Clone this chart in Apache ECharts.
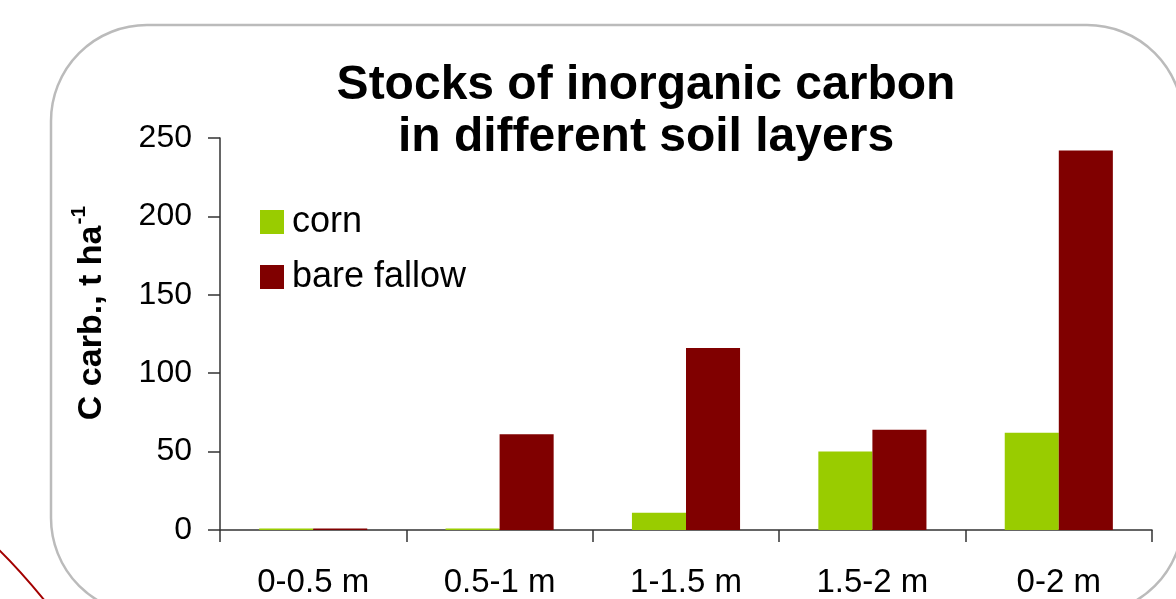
<!DOCTYPE html>
<html>
<head>
<meta charset="utf-8">
<script src="https://cdn.jsdelivr.net/npm/echarts@6/dist/echarts.min.js"></script>
<style>
  html, body { margin: 0; padding: 0; background: #ffffff; }
  #chart { width: 1176px; height: 599px; }
</style>
</head>
<body>
<div id="chart"></div>
<script>
// Soil layers on the category axis
const categories = ['0-0.5 m', '0.5-1 m', '1-1.5 m', '1.5-2 m', '0-2 m'];
// Inorganic carbon stocks, t ha-1
const corn = [1, 1, 11, 50, 62];
const bareFallow = [1, 61, 116, 64, 242];
// Value axis ticks
const yMin = 0;
const yMax = 250;
const yStep = 50;

const FONT = "'Liberation Sans', Arial, Helvetica, sans-serif";
const chart = echarts.init(document.getElementById('chart'), null, { renderer: 'canvas' });

const option = {
  backgroundColor: '#ffffff',
  animation: false,
  title: {
    text: 'Stocks of inorganic carbon\nin different soil layers',
    left: 641,
    top: 55,
    textAlign: 'center',
    textStyle: {
      fontFamily: FONT,
      fontSize: 48,
      fontWeight: 'bold',
      color: '#000000',
      lineHeight: 52
    }
  },
  legend: [
    {
      data: ['corn'],
      left: 255,
      top: 199,
      icon: 'rect',
      itemWidth: 24,
      itemHeight: 24,
      selectedMode: false,
      textStyle: { fontFamily: FONT, fontSize: 36, color: '#000000', lineHeight: 36, padding: [0, 0, 0, 3] }
    },
    {
      data: ['bare fallow'],
      left: 255,
      top: 254,
      icon: 'rect',
      itemWidth: 24,
      itemHeight: 24,
      selectedMode: false,
      textStyle: { fontFamily: FONT, fontSize: 36, color: '#000000', lineHeight: 36, padding: [0, 0, 0, 3] }
    }
  ],
  grid: { left: 220, right: 24, top: 138, bottom: 69, containLabel: false },
  xAxis: {
    type: 'category',
    data: categories,
    axisLine: { show: true, lineStyle: { color: '#333333', width: 1.5 } },
    axisTick: { show: true, length: 12, lineStyle: { color: '#333333', width: 1.5 } },
    axisLabel: { fontFamily: FONT, fontSize: 33, color: '#000000', margin: 36 },
    splitLine: { show: false }
  },
  yAxis: {
    type: 'value',
    min: yMin,
    max: yMax,
    interval: yStep,
    axisLine: { show: true, lineStyle: { color: '#333333', width: 1.5 } },
    axisTick: { show: true, length: 12, lineStyle: { color: '#333333', width: 1.5 } },
    axisLabel: { fontFamily: FONT, fontSize: 32, color: '#000000', margin: 28 },
    splitLine: { show: false }
  },
  series: [
    {
      name: 'corn',
      type: 'bar',
      data: corn,
      barGap: '0%',
      barCategoryGap: '42%',
      itemStyle: { color: '#99CC00' }
    },
    {
      name: 'bare fallow',
      type: 'bar',
      data: bareFallow,
      barGap: '0%',
      barCategoryGap: '42%',
      itemStyle: { color: '#800000' }
    }
  ],
  graphic: [
    {
      // rounded frame around the chart
      type: 'rect',
      z: -10,
      silent: true,
      shape: { x: 51, y: 25, width: 1132, height: 589, r: 96 },
      style: { fill: 'none', stroke: '#bbbbbb', lineWidth: 2.5 }
    },
    {
      // red decorative stroke in the lower-left corner
      type: 'bezierCurve',
      z: -10,
      silent: true,
      shape: { x1: -4, y1: 547, cpx1: 18, cpy1: 568, x2: 45, y2: 601 },
      style: { fill: 'none', stroke: '#a30000', lineWidth: 2 }
    },
    {
      // value axis name with superscript unit exponent
      type: 'text',
      x: 89,
      y: 313,
      rotation: Math.PI / 2,
      silent: true,
      style: {
        text: '{b|C carb., t ha}{s|-1}',
        align: 'center',
        verticalAlign: 'middle',
        rich: {
          b: { fontFamily: FONT, fontSize: 34, fontWeight: 'bold', fill: '#000000', lineHeight: 40, verticalAlign: 'bottom' },
          s: { fontFamily: FONT, fontSize: 21, fontWeight: 'bold', fill: '#000000', lineHeight: 40, verticalAlign: 'top', padding: [0, 0, 14, 1] }
        }
      }
    }
  ]
};

chart.setOption(option);
</script>
</body>
</html>
